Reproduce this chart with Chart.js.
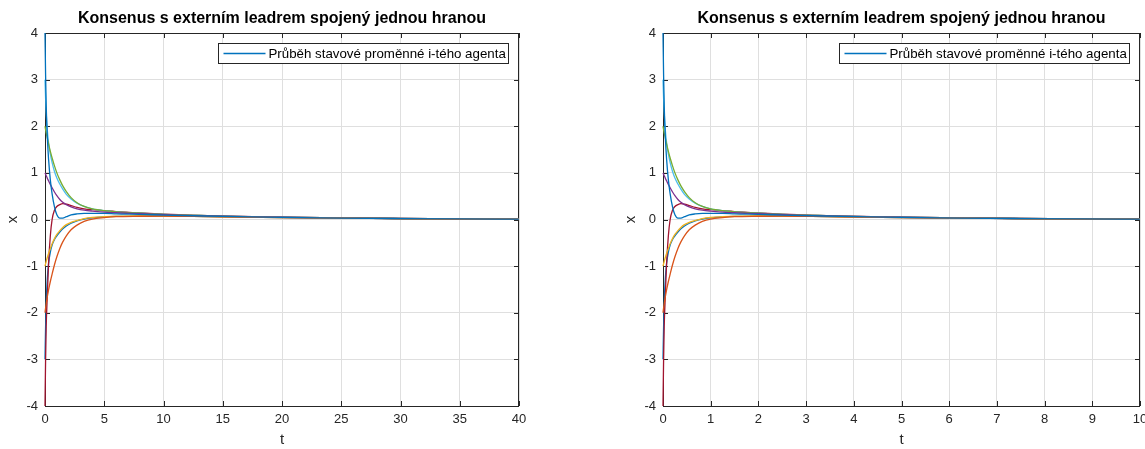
<!DOCTYPE html>
<html>
<head>
<meta charset="utf-8">
<script src="https://cdn.jsdelivr.net/npm/chart.js@4.4.0/dist/chart.umd.min.js"></script>
<style>
  html, body { margin: 0; padding: 0; background: #fff; overflow: hidden; }
  #left { position: absolute; left: 0; top: 0; }
  #right { position: absolute; left: 618px; top: 0; }
</style>
</head>
<body>
<canvas id="left" width="564" height="449"></canvas>
<canvas id="right" width="567" height="449"></canvas>
<script>
// casove osy obou grafu
const timeLeft = [0, 0.05, 0.1, 0.2, 0.3, 0.45, 0.6, 0.8, 1, 1.25, 1.5, 1.8, 2.2, 2.7, 3.3, 4, 5, 6, 8, 10, 12.5, 15, 20, 25, 30, 35, 40];
const timeRight = [0, 0.0125, 0.025, 0.05, 0.075, 0.1125, 0.15, 0.2, 0.25, 0.3125, 0.375, 0.45, 0.55, 0.675, 0.825, 1, 1.25, 1.5, 2, 2.5, 3.125, 3.75, 5, 6.25, 7.5, 8.75, 10];

// prubehy stavovych promennych agentu
const agent1 = [4, 3.1, 2.45, 1.75, 1.3, 0.85, 0.55, 0.27, 0.1, 0.03, 0.03, 0.06, 0.1, 0.12, 0.13, 0.13, 0.13, 0.12, 0.11, 0.095, 0.08, 0.065, 0.045, 0.03, 0.02, 0.012, 0.007];
const agent2 = [-2, -1.9, -1.81, -1.65, -1.51, -1.33, -1.17, -0.97, -0.8, -0.62, -0.48, -0.35, -0.22, -0.12, -0.04, 0.01, 0.04, 0.06, 0.07, 0.075, 0.068, 0.058, 0.042, 0.029, 0.018, 0.011, 0.006];
const agent3 = [-1, -0.95, -0.9, -0.81, -0.73, -0.62, -0.52, -0.41, -0.32, -0.24, -0.17, -0.11, -0.06, -0.02, 0.02, 0.045, 0.06, 0.07, 0.075, 0.075, 0.068, 0.058, 0.042, 0.029, 0.018, 0.011, 0.006];
const agent4 = [1, 0.97, 0.94, 0.88, 0.83, 0.75, 0.68, 0.59, 0.51, 0.43, 0.37, 0.32, 0.27, 0.23, 0.2, 0.18, 0.16, 0.145, 0.125, 0.105, 0.085, 0.07, 0.048, 0.032, 0.021, 0.013, 0.007];
const agent5 = [2, 1.93, 1.86, 1.74, 1.62, 1.46, 1.32, 1.15, 1.0, 0.85, 0.72, 0.6, 0.47, 0.36, 0.28, 0.23, 0.19, 0.165, 0.135, 0.11, 0.09, 0.072, 0.05, 0.033, 0.021, 0.013, 0.007];
const agent6 = [3, 2.6, 2.3, 1.9, 1.65, 1.4, 1.22, 1.03, 0.89, 0.76, 0.65, 0.54, 0.44, 0.35, 0.28, 0.23, 0.19, 0.165, 0.135, 0.11, 0.09, 0.072, 0.05, 0.033, 0.021, 0.013, 0.007];
const agent7 = [-4, -3.0, -2.3, -1.6, -0.95, -0.35, 0.0, 0.2, 0.28, 0.32, 0.34, 0.33, 0.3, 0.26, 0.23, 0.21, 0.19, 0.17, 0.14, 0.115, 0.092, 0.074, 0.05, 0.033, 0.021, 0.013, 0.007];
const agent8 = [-3, -2.3, -1.8, -1.25, -0.95, -0.7, -0.55, -0.43, -0.35, -0.27, -0.2, -0.14, -0.08, -0.03, 0.01, 0.035, 0.055, 0.065, 0.072, 0.075, 0.068, 0.058, 0.042, 0.029, 0.018, 0.011, 0.006];

const agents = [agent1, agent2, agent3, agent4, agent5, agent6, agent7, agent8];
const agentColors = ["#0072BD", "#D95319", "#EDB120", "#7E2F8E", "#77AC30", "#4DBEEE", "#A2142F", "#0072BD"];

const chartTitle = "Konsenus s externím leadrem spojený jednou hranou";
const legendLabel = "Průběh stavové proměnné i-tého agenta";

const fontFamily = "'Liberation Sans', Arial, Helvetica, sans-serif";
const axisColor = "#262626";

// ramecek a tick znacky dovnitr (pod krivkami, jako v matlabu)
const matlabAxes = {
    id: "matlabAxes",
    beforeDatasetsDraw(chart) {
        const ctx = chart.ctx;
        const area = chart.chartArea;
        const xScale = chart.scales.x;
        const yScale = chart.scales.y;
        const tl = 5;
        ctx.save();
        ctx.strokeStyle = axisColor;
        ctx.lineWidth = 1;
        ctx.beginPath();
        xScale.ticks.forEach(t => {
            const px = Math.round(xScale.getPixelForValue(t.value)) + 0.5;
            ctx.moveTo(px, area.bottom);
            ctx.lineTo(px, area.bottom - tl);
            ctx.moveTo(px, area.top);
            ctx.lineTo(px, area.top + tl);
        });
        yScale.ticks.forEach(t => {
            const py = Math.round(yScale.getPixelForValue(t.value)) + 0.5;
            ctx.moveTo(area.left, py);
            ctx.lineTo(area.left + tl, py);
            ctx.moveTo(area.right, py);
            ctx.lineTo(area.right - tl, py);
        });
        ctx.stroke();
        ctx.strokeRect(Math.round(area.left) + 0.5, Math.round(area.top) + 0.5,
            Math.round(area.right - area.left) - 1, Math.round(area.bottom - area.top));
        ctx.restore();
    },
    afterDraw(chart) {
        const ctx = chart.ctx;
        const area = chart.chartArea;
        ctx.save();
        // nadpis nad stredem osy
        ctx.font = "bold 16px " + fontFamily;
        ctx.fillStyle = "#000";
        ctx.textAlign = "center";
        ctx.textBaseline = "middle";
        ctx.fillText(chartTitle, (area.left + area.right) / 2, 19);

        // legenda
        ctx.font = "13.3px " + fontFamily;
        const textW = ctx.measureText(legendLabel).width;
        const boxW = Math.round(textW + 53);
        const boxH = 20;
        const bx = Math.round(area.right - 11 - boxW) + 0.5;
        const by = Math.round(area.top + 10) + 0.5;
        ctx.fillStyle = "#fff";
        ctx.fillRect(bx, by, boxW, boxH);
        ctx.lineWidth = 1;
        ctx.strokeStyle = axisColor;
        ctx.strokeRect(bx, by, boxW, boxH);
        ctx.strokeStyle = agentColors[0];
        ctx.lineWidth = 1.4;
        ctx.beginPath();
        ctx.moveTo(bx + 5, by + boxH / 2);
        ctx.lineTo(bx + 47, by + boxH / 2);
        ctx.stroke();
        ctx.fillStyle = "#000";
        ctx.textAlign = "left";
        ctx.fillText(legendLabel, bx + 50, by + boxH / 2 + 0.5);
        ctx.restore();
    }
};

function makeDatasets(times) {
    return agents.map((values, i) => ({
        data: values.map((v, k) => ({ x: times[k], y: v })),
        borderColor: agentColors[i],
        borderWidth: 1.3,
        pointRadius: 0,
        fill: false,
        clip: 3,
        cubicInterpolationMode: "monotone"
    }));
}

function createChart(canvasElement, times, xMax, xStep) {
    return new Chart(canvasElement, {
        type: "line",
        data: { datasets: makeDatasets(times) },
        plugins: [matlabAxes],
        options: {
            responsive: false,
            animation: false,
            devicePixelRatio: 1,
            layout: { padding: { left: 0, right: 45, top: 33, bottom: 0 } },
            plugins: {
                legend: { display: false },
                tooltip: { enabled: false },
                title: { display: false }
            },
            scales: {
                x: {
                    type: "linear",
                    min: 0,
                    max: xMax,
                    afterFit: scale => { scale.height = 43; },
                    ticks: { stepSize: xStep, color: axisColor, padding: 6, font: { family: fontFamily, size: 13 }, maxRotation: 0 },
                    grid: { color: "#DFDFDF", drawTicks: false },
                    border: { display: false },
                    title: { display: true, text: "t", color: axisColor, font: { family: fontFamily, size: 15 }, padding: { top: 0, bottom: 0 } }
                },
                y: {
                    min: -4,
                    max: 4,
                    afterFit: scale => { scale.width = 45; },
                    ticks: { stepSize: 1, color: axisColor, padding: 7, font: { family: fontFamily, size: 13 } },
                    grid: { color: "#DFDFDF", drawTicks: false },
                    border: { display: false },
                    title: { display: true, text: "x", color: axisColor, font: { family: fontFamily, size: 15 }, padding: { top: 4, bottom: 0 } }
                }
            }
        }
    });
}

createChart(document.getElementById("left"), timeLeft, 40, 5);
createChart(document.getElementById("right"), timeRight, 10, 1);
</script>
</body>
</html>
